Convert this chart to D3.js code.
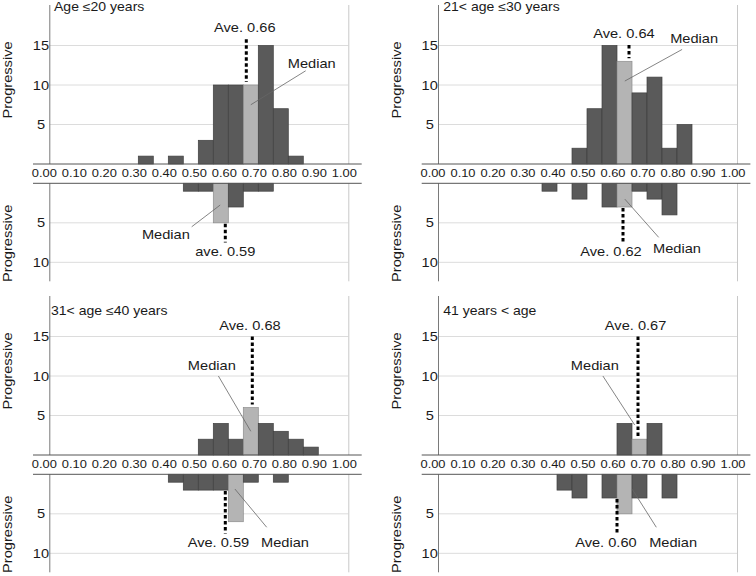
<!DOCTYPE html>
<html><head><meta charset="utf-8">
<script src="https://cdn.jsdelivr.net/npm/d3@7"></script>
<style>
body{margin:0;background:#fff;}
text{font-family:"Liberation Sans",Arial,Helvetica,sans-serif;fill:#1a1a1a;}
</style></head>
<body><svg id="c" width="756" height="576"></svg>
<script>
// ---------- DATA ----------
const binStarts = [0.30,0.35,0.40,0.45,0.50,0.55,0.60,0.65,0.70,0.75,0.80,0.85];
const binWidth = 0.05;
const panelTitles = ["Age \u226420 years","21< age \u226430 years","31< age \u226440 years","41 years < age"];
const upperCounts = [
  [1,0,1,0,3,10,10,10,15,7,1,0],
  [0,0,0,2,7,15,13,9,11,2,5,0],
  [0,0,0,0,2,4,2,6,4,3,2,1],
  [0,0,0,0,0,0,4,2,4,0,0,0]
];
const lowerCounts = [
  [0,0,0,1,1,5,3,1,1,0,0,0],
  [0,1,0,2,0,3,3,1,2,4,0,0],
  [0,0,1,2,2,2,6,1,0,1,0,0],
  [0,0,2,3,0,3,5,3,0,3,0,0]
];
const upperMedianBin = [0.65,0.60,0.65,0.65];
const lowerMedianBin = [0.55,0.60,0.60,0.60];
const upperAve = [0.66,0.64,0.68,0.67];
const lowerAve = [0.59,0.62,0.59,0.60];
const upperAveText = ["Ave. 0.66","Ave. 0.64","Ave. 0.68","Ave. 0.67"];
const lowerAveText = ["ave. 0.59","Ave. 0.62","Ave. 0.59","Ave. 0.60"];
const xTicks = [0,0.1,0.2,0.3,0.4,0.5,0.6,0.7,0.8,0.9,1.0];
const upperYTicks = [5,10,15];
const lowerYTicks = [5,10];
const axisTitle = "Progressive";
const medianText = "Median";

// ---------- LAYOUT (annotation placement, in data units) ----------
const panelOffsets = [[0,0],[388.7,0],[0,291],[388.7,291]];
const titleY = [10.5,11,24.3,24.3];
const titleX = [54,54.5,51,54.5];
const upperAveTop = [15.8,15.05,15,15];
const upperAveTextX = [0.655,0.623,0.672,0.662];
const lowerAveEnd = 7.5;
const lowerAveTextX = [0.59,0.58,0.567,0.563];
// median label [x, y(baseline)], leader [x1,y1,x2,y2]
const upperMedLabel = [[0.878,12.1],[0.857,15.3],[0.545,10.7],[0.526,10.7]];
const upperMedLeader = [[0.858,11.8,0.675,7.5],[0.817,14.5,0.626,10.5],[0.567,10.0,0.675,3.0],[0.553,10.0,0.659,3.8]];
const lowerMedLabel = [[0.392,7.1],[0.80,8.8],[0.789,9.2],[0.787,9.2]];
const lowerMedLeader = [[0.478,5.5,0.573,2.75],[0.626,2.0,0.739,6.84],[0.622,1.86,0.728,6.7],[0.651,1.9,0.731,6.7]];

// ---------- DRAW ----------
const SX = 1.17;
const svg = d3.select("#c");
const x = d3.scaleLinear().domain([0,1]).range([48.3,348.3]);
const yU = d3.scaleLinear().domain([0,20]).range([164,6]);
const yL = d3.scaleLinear().domain([0,12.4]).range([183.3,281.3]);

function txt(g, px, py, s, size, anchor, rot){
  return g.append("text")
    .attr("transform", `translate(${px},${py}) rotate(${rot||0}) scale(${SX},1)`)
    .attr("text-anchor", anchor || "middle")
    .style("font-size", size + "px")
    .text(s);
}
function binIndexOf(v){ return Math.ceil(Math.round(v*100)/5) - 1 - Math.round(binStarts[0]/binWidth); }

panelOffsets.forEach((off, p) => {
  const g = svg.append("g").attr("transform", `translate(${off[0]},${off[1]})`);

  // gridlines
  g.selectAll(".gu").data(upperYTicks).join("line")
    .attr("x1", x(0)+1.5).attr("x2", x(1)).attr("y1", d=>yU(d)).attr("y2", d=>yU(d))
    .attr("stroke", "#dcdcdc").attr("stroke-width", 1);
  g.selectAll(".gl").data(lowerYTicks).join("line")
    .attr("x1", x(0)+1.5).attr("x2", x(1)).attr("y1", d=>yL(d)).attr("y2", d=>yL(d))
    .attr("stroke", "#dcdcdc").attr("stroke-width", 1);

  // right frame lines
  [[yU(0), yU.range()[1]-1],[yL(0), yL.range()[1]]].forEach(r => {
    g.append("line").attr("x1", x(1)+0.5).attr("x2", x(1)+0.5).attr("y1", r[0]).attr("y2", r[1])
      .attr("stroke", "#c8c8c8").attr("stroke-width", 1);
  });

  // bars upper
  const up = binStarts.map((b,i) => ({b, v: upperCounts[p][i]})).filter(d => d.v > 0);
  g.selectAll(".bu").data(up).join("rect")
    .attr("x", d => x(d.b)).attr("width", d => x(d.b+binWidth)-x(d.b))
    .attr("y", d => yU(d.v)).attr("height", d => yU(0)-yU(d.v))
    .attr("fill", d => Math.abs(d.b-upperMedianBin[p])<1e-6 ? "#b4b4b4" : "#5a5a5a")
    .attr("stroke", d => Math.abs(d.b-upperMedianBin[p])<1e-6 ? "#8c8c8c" : "#404040")
    .attr("stroke-width", 0.7);
  // bars lower
  const lo = binStarts.map((b,i) => ({b, v: lowerCounts[p][i]})).filter(d => d.v > 0);
  g.selectAll(".bl").data(lo).join("rect")
    .attr("x", d => x(d.b)).attr("width", d => x(d.b+binWidth)-x(d.b))
    .attr("y", yL(0)).attr("height", d => yL(d.v)-yL(0))
    .attr("fill", d => Math.abs(d.b-lowerMedianBin[p])<1e-6 ? "#b4b4b4" : "#5a5a5a")
    .attr("stroke", d => Math.abs(d.b-lowerMedianBin[p])<1e-6 ? "#8c8c8c" : "#404040")
    .attr("stroke-width", 0.7);

  // left frame lines
  [[yU.range()[1]-1, yU(0)],[yL(0), yL.range()[1]]].forEach(r => {
    g.append("line").attr("x1", x(0)+1.5).attr("x2", x(0)+1.5).attr("y1", r[0]).attr("y2", r[1])
      .attr("stroke", "#7a7a7a").attr("stroke-width", 1);
  });

  // horizontal axis lines
  [yU(0), yL(0)].forEach(yy => {
    g.append("line").attr("x1", 33).attr("x2", 361.7).attr("y1", yy).attr("y2", yy)
      .attr("stroke", "#555").attr("stroke-width", 1);
  });

  // x tick labels
  xTicks.forEach(t => txt(g, x(t)-4, 177.3, d3.format(".2f")(t), 11, "middle"));

  // y tick labels
  upperYTicks.forEach(t => txt(g, 41, yU(t)+4.5, String(t), 12.5, "middle"));
  lowerYTicks.forEach(t => txt(g, 41, yL(t)+4.5, String(t), 12.5, "middle"));

  // axis titles
  txt(g, 12.3, 80, axisTitle, 12.5, "middle", -90);
  txt(g, 12.3, 243.3, axisTitle, 12.5, "middle", -90);

  // panel title
  txt(g, titleX[p], titleY[p], panelTitles[p], 12, "start");

  // average dotted lines
  const ui = binIndexOf(upperAve[p]);
  g.append("line").attr("x1", x(upperAve[p])).attr("x2", x(upperAve[p]))
    .attr("y1", yU(upperAveTop[p])).attr("y2", yU(upperCounts[p][ui]) - 3)
    .attr("stroke", "#000").attr("stroke-width", 3).attr("stroke-dasharray", "3.5,2.5");
  txt(g, x(upperAveTextX[p]), yU(upperAveTop[p]) - 7, upperAveText[p], 12.5, "middle");

  const li = binIndexOf(lowerAve[p]);
  g.append("line").attr("x1", x(lowerAve[p])).attr("x2", x(lowerAve[p]))
    .attr("y1", yL(lowerCounts[p][li]) + 1).attr("y2", yL(lowerAveEnd))
    .attr("stroke", "#000").attr("stroke-width", 3).attr("stroke-dasharray", "3.5,2.5");
  txt(g, x(lowerAveTextX[p]), yL(lowerAveEnd) + 13.8, lowerAveText[p], 12.5, "middle");

  // median annotations
  const um = upperMedLeader[p];
  g.append("line").attr("x1", x(um[0])).attr("y1", yU(um[1])).attr("x2", x(um[2])).attr("y2", yU(um[3]))
    .attr("stroke", "#666").attr("stroke-width", 0.8);
  txt(g, x(upperMedLabel[p][0]), yU(upperMedLabel[p][1]), medianText, 12.5, "middle");
  const lm = lowerMedLeader[p];
  g.append("line").attr("x1", x(lm[0])).attr("y1", yL(lm[1])).attr("x2", x(lm[2])).attr("y2", yL(lm[3]))
    .attr("stroke", "#666").attr("stroke-width", 0.8);
  txt(g, x(lowerMedLabel[p][0]), yL(lowerMedLabel[p][1]), medianText, 12.5, "middle");
});
</script></body></html>
